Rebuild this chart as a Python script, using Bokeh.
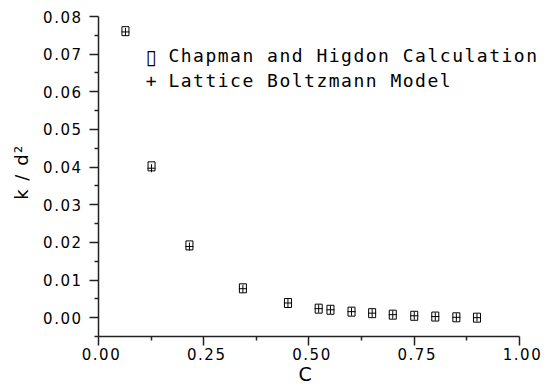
from bokeh.plotting import figure
from bokeh.models import Range1d, FixedTicker, PrintfTickFormatter, Label, ColumnDataSource, InlineStyleSheet, Title
from bokeh.embed import file_html
from bokeh.resources import INLINE

# ---- data ----
c_vals = [0.064, 0.126, 0.216, 0.343, 0.450, 0.523, 0.551, 0.601, 0.650, 0.699, 0.750, 0.800, 0.850, 0.899]
k_chapman = [0.0761, 0.0402, 0.0192, 0.0078, 0.0039, 0.0024, 0.0021, 0.0016, 0.0012, 0.0008, 0.0005, 0.0003, 0.0001, 0.0000]
k_lattice = [0.0759, 0.0397, 0.0189, 0.0077, 0.0039, 0.0024, 0.0021, 0.0016, 0.0012, 0.0008, 0.0005, 0.0003, 0.0001, 0.0000]

x_ticks = [0.0, 0.25, 0.5, 0.75, 1.0]
x_minor = [0.125, 0.375, 0.625, 0.875]
y_ticks = [0.00, 0.01, 0.02, 0.03, 0.04, 0.05, 0.06, 0.07, 0.08]
y_minor = [-0.005, 0.005, 0.015, 0.025, 0.035, 0.045, 0.055, 0.065, 0.075]

series_names = ["Chapman and Higdon Calculation", "Lattice Boltzmann Model"]
x_label = "C"
y_label = "k / d\u00b2"

FONT = "DejaVu Sans"
LEG_FONT = "DejaVu Sans Mono"

src = ColumnDataSource(dict(c=c_vals, kch=k_chapman, klb=k_lattice))

# x range runs a little past 1.0 so the legend text is not clipped; the axis itself stops at 1.0
p = figure(width=552, height=389, x_range=Range1d(0, 1.0784), y_range=Range1d(-0.005, 0.08),
           output_backend="svg", toolbar_location=None,
           min_border_left=98, min_border_right=0, min_border_top=16, min_border_bottom=53)
p.stylesheets = [InlineStyleSheet(css=":host { letter-spacing: 1.5px; }")]

p.xgrid.visible = False
p.ygrid.visible = False
p.outline_line_color = None
p.background_fill_color = "white"
p.border_fill_color = "white"

p.xaxis.ticker = FixedTicker(ticks=x_ticks, minor_ticks=x_minor)
p.yaxis.ticker = FixedTicker(ticks=y_ticks, minor_ticks=y_minor)
p.xaxis.formatter = PrintfTickFormatter(format="%.2f")
p.yaxis.formatter = PrintfTickFormatter(format="%.2f")
p.xaxis.bounds = (0, 1)

for ax in (p.xaxis, p.yaxis):
    ax.axis_line_color = "#222222"
    ax.axis_line_width = 1.5
    ax.major_tick_line_color = "#222222"
    ax.major_tick_line_width = 1.5
    ax.minor_tick_line_color = "#222222"
    ax.minor_tick_line_width = 1.5
    ax.major_tick_in = 0
    ax.major_tick_out = 9
    ax.minor_tick_in = 0
    ax.minor_tick_out = 4
    ax.major_label_text_font = FONT
    ax.major_label_text_font_size = "15px"
    ax.major_label_text_color = "black"
    ax.axis_label_text_font = FONT
    ax.axis_label_text_font_style = "normal"
    ax.axis_label_text_color = "black"

p.xaxis.major_label_standoff = 2
p.yaxis.major_label_standoff = 13
p.yaxis.axis_label = y_label
p.yaxis.axis_label_text_font_size = "18px"
p.yaxis.axis_label_standoff = 8

# x axis label: centred under the axis (which is shorter than the frame)
p.add_layout(Title(text=x_label, align="left", offset=200, vertical_align="top", standoff=0,
                   text_font=FONT, text_font_size="19px", text_font_style="normal",
                   text_color="black"), "below")

p.rect(x="c", y="kch", width=7, height=9, width_units="screen", height_units="screen",
       source=src, fill_color=None, line_color="black", line_width=1)
p.scatter(x="c", y="klb", marker="cross", size=8, source=src,
          line_color="black", line_width=1)

# legend made of text
leg_font_size = "18px"
p.add_layout(Label(x=0.112, y=0.0693, text="\u25af", text_font=FONT, text_font_size="20px",
                   text_baseline="middle", text_color="black"))
p.add_layout(Label(x=0.166, y=0.0697, text=series_names[0], text_font=LEG_FONT, text_font_size=leg_font_size,
                   text_baseline="alphabetic", text_color="black"))
p.add_layout(Label(x=0.112, y=0.0630, text="+", text_font=LEG_FONT, text_font_size=leg_font_size,
                   text_baseline="alphabetic", text_color="black"))
p.add_layout(Label(x=0.166, y=0.0630, text=series_names[1], text_font=LEG_FONT, text_font_size=leg_font_size,
                   text_baseline="alphabetic", text_color="black"))

open("out.html", "w").write(file_html(p, INLINE))
